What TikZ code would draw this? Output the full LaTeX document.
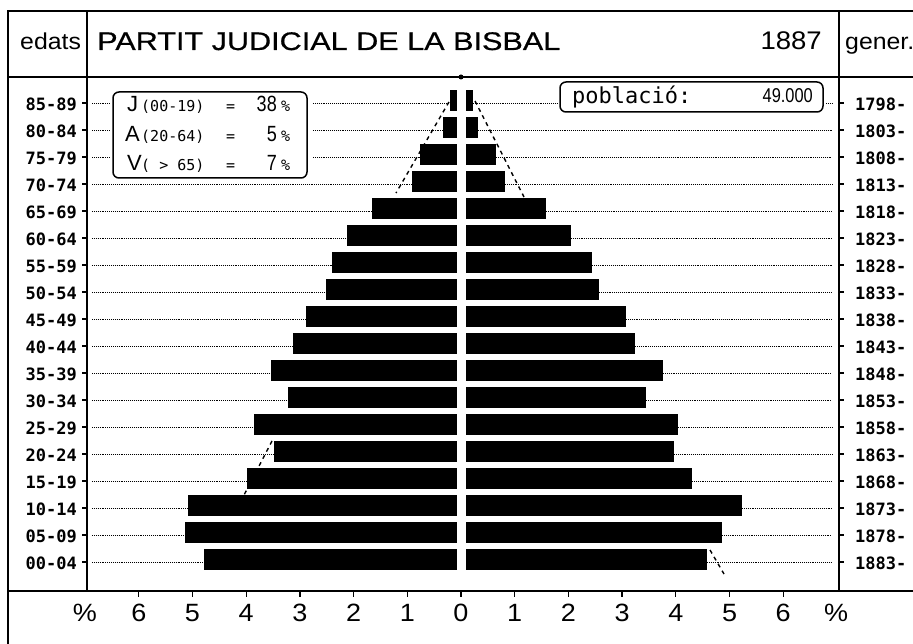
\documentclass[tikz,border=0pt]{standalone}
\usepackage{fontspec}
\setmainfont{Liberation Sans}
\newfontfamily\agefont{DejaVu Sans Mono}
\newfontfamily\wideA[FakeStretch=1.2,FakeBold=0.6]{Liberation Sans}
\newfontfamily\wideB[FakeStretch=1.08]{Liberation Sans}
\newfontfamily\narrowf[FakeStretch=0.82]{Liberation Sans}
\tikzset{
  frame/.style={line width=1.6pt},
  gridln/.style={densely dotted, line width=0.9pt},
  envln/.style={dash pattern=on 4pt off 4pt, line width=1.4pt},
  tickst/.style={line width=1.3pt},
  agelbl/.style={anchor=east, inner sep=0pt, font=\agefont\bfseries\fontsize{17}{17}\selectfont},
  yrlbl/.style={anchor=west, inner sep=0pt, font=\agefont\bfseries\fontsize{17}{17}\selectfont},
  axlbl/.style={inner sep=0pt, font=\wideB\fontsize{25}{25}\selectfont},
  boxst/.style={draw, line width=1.5pt, rounded corners=6pt, inner sep=0pt},
  legL/.style={anchor=base west, inner sep=0pt, font=\fontsize{22}{22}\selectfont},
  legS/.style={anchor=base west, inner sep=0pt, font=\agefont\fontsize{15}{15}\selectfont},
  legN/.style={anchor=base east, inner sep=0pt, font=\narrowf\fontsize{22}{22}\selectfont},
}
\begin{document}
\begin{tikzpicture}[x=1pt,y=-1pt]
\useasboundingbox (0,0) rectangle (913,644);
% frame
\draw[frame] (8,644) -- (8,11) -- (913,11);
\draw[frame] (8,77) -- (913,77);
\draw[frame] (8,591) -- (913,591);
\draw[frame] (87,11) -- (87,591);
\draw[frame] (839,11) -- (839,591);
\fill (461,77) circle (2.5);
% header
\node[anchor=base west, inner sep=0pt, font=\wideB\fontsize{23}{23}\selectfont] (edats) at (20,50) {edats};
\node[anchor=base west, inner sep=0pt, font=\wideA\fontsize{25.5}{25.5}\selectfont] (title) at (97,50) {PARTIT JUDICIAL DE LA BISBAL};
\node[anchor=base east, inner sep=0pt, font=\wideB\fontsize{25.5}{25.5}\selectfont] (year) at (822,50) {1887};
\node[anchor=base west, inner sep=0pt, font=\wideB\fontsize{23}{23}\selectfont] (gener) at (845,50) {gener.};
% envelope dashed lines
\draw[envln] (453,95) -- (396,193);
\draw[envln] (475,101) -- (524,197);
\draw[envln] (272,441) -- (243,497);
\draw[envln] (710,550) -- (724,574);
% rows
\foreach \a/\yr/\l/\r [count=\i from 0] in {
85-89/1798/450/473, 80-84/1803/443/478, 75-79/1808/420/496, 70-74/1813/412/505,
65-69/1818/372/546, 60-64/1823/347/571, 55-59/1828/332/592, 50-54/1833/326/599,
45-49/1838/306/626, 40-44/1843/293/635, 35-39/1848/271/663, 30-34/1853/288/646,
25-29/1858/254/678, 20-24/1863/274/674, 15-19/1868/247/692, 10-14/1873/188/742,
05-09/1878/185/722, 00-04/1883/204/707}{
  \pgfmathsetmacro\yy{103+27*\i}
  \node[agelbl] (age\i) at (77,\yy+1) {\a};
  \node[yrlbl] (yr\i) at (855,\yy+1) {\yr-};
  \draw[tickst] (82,\yy) -- (87,\yy);
  \draw[tickst] (839,\yy) -- (844,\yy);
  \ifnum\i>2
    \draw[gridln] (92,\yy) -- (\l,\yy);
  \else
    \draw[gridln] (92,\yy) -- (110,\yy) (313,\yy) -- (\l,\yy);
  \fi
  \ifnum\i>0
    \draw[gridln] (\r,\yy) -- (832,\yy);
  \else
    \draw[gridln] (\r,\yy) -- (557,\yy) (826,\yy) -- (832,\yy);
  \fi
  \fill (\l,\yy-13) rectangle (457,\yy+8);
  \fill (466,\yy-13) rectangle (\r,\yy+8);
}
% legend box
\node[boxst, minimum width=194pt, minimum height=86pt] (legend) at (210,135) {};
\node[legL] (lJ) at (127,112) {J};
\node[legS] (pJ) at (141,112) {(00-19)};
\node[legS] (eJ) at (226,112) {=};
\node[legN] (nJ) at (277,112) {38};
\node[legS] (cJ) at (281,112) {\%};
\node[legL] (lA) at (125,142) {A};
\node[legS] (pA) at (141,142) {(20-64)};
\node[legS] (eA) at (226,142) {=};
\node[legN] (nA) at (277,142) {5};
\node[legS] (cA) at (281,142) {\%};
\node[legL] (lV) at (127,171) {V};
\node[legS] (pV) at (141,171) {( > 65)};
\node[legS] (eV) at (226,171) {=};
\node[legN] (nV) at (277,171) {7};
\node[legS] (cV) at (281,171) {\%};
% population box
\node[boxst, minimum width=263pt, minimum height=30pt] (popbox) at (691.5,97) {};
\node[anchor=base west, inner sep=0pt, font=\agefont\fontsize{22}{22}\selectfont] (pobl) at (572,104) {població:};
\node[anchor=base east, inner sep=0pt, font=\narrowf\fontsize{20}{20}\selectfont] (pnum) at (813,103) {49.000};
% axis
\foreach \k in {-6,...,6}{
  \draw[tickst] (461+53.7*\k,591) -- (461+53.7*\k,597);
}
\node[axlbl] (ax0) at (461,613) {0};
\foreach \k in {1,...,6}{
  \node[axlbl] (axl\k) at (461-53.7*\k,613) {\k};
  \node[axlbl] (axr\k) at (461+53.7*\k,613) {\k};
}
\node[axlbl] (pctL) at (85,613) {\%};
\node[axlbl] (pctR) at (836,613) {\%};
\end{tikzpicture}
\end{document}
